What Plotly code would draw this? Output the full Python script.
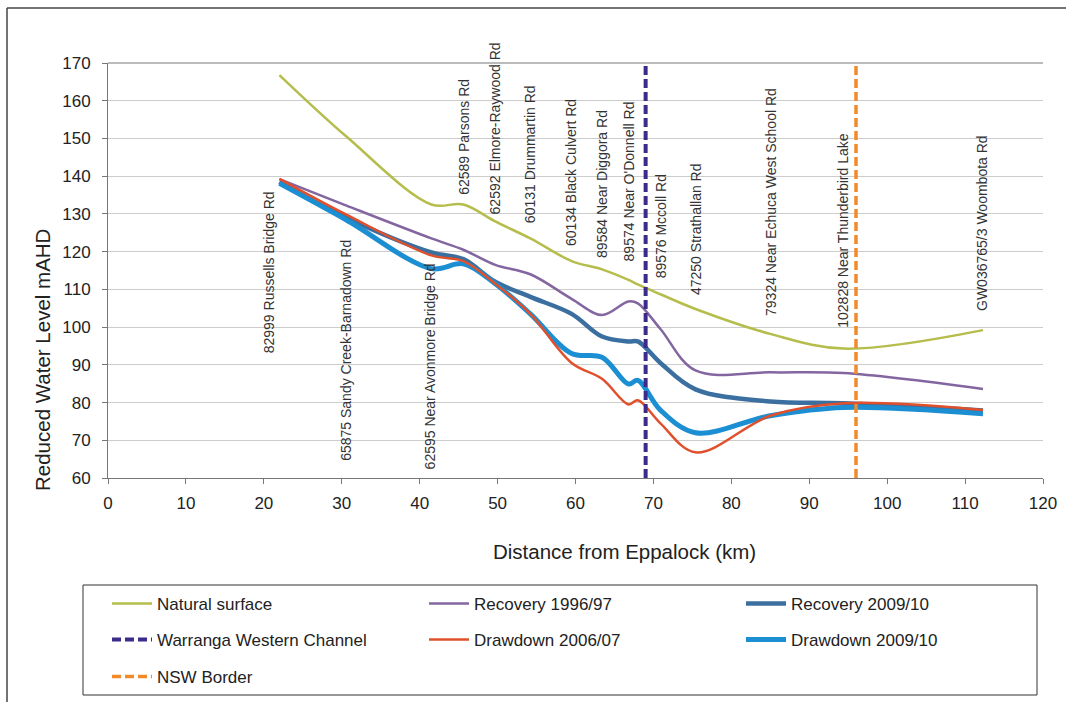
import plotly.graph_objects as go

# Bore locations along the transect (km from Eppalock) and water levels (mAHD)
distance_km = [22.0, 30.6, 41.5, 45.6, 49.7, 54.2, 59.5, 63.4, 66.8, 68.0, 70.9, 75.4, 85.0, 94.4, 112.3]
natural_surface = [166.8, 150.5, 132.5, 132.5, 128.0, 123.5, 117.5, 115.3, 112.5, 111.3, 108.7, 104.8, 98.2, 94.3, 99.2]
recovery_1996_97 = [139.2, 132.2, 123.5, 120.5, 116.5, 114.0, 107.5, 103.2, 106.8, 106.3, 99.5, 88.5, 88.0, 87.8, 83.6]
recovery_2009_10 = [138.5, 129.0, 119.8, 118.0, 112.0, 108.0, 103.5, 97.5, 96.2, 96.2, 90.5, 83.5, 80.3, 79.8, 77.9]
drawdown_2006_07 = [139.3, 129.8, 119.0, 117.5, 111.5, 103.5, 90.5, 86.3, 79.5, 80.6, 74.5, 66.8, 76.5, 79.8, 78.0]
drawdown_2009_10 = [138.1, 128.4, 115.5, 116.8, 111.5, 103.5, 93.0, 92.0, 84.9, 85.9, 78.0, 72.0, 76.5, 78.7, 77.0]

# Reference features crossing the transect
warranga_channel_km = 69.0
nsw_border_km = 96.0

# Bore names, with where each name is written (km, level at the start of the text)
bore_names = [
    "82999 Russells Bridge Rd", "65875 Sandy Creek-Barnadown Rd", "62595 Near Avonmore Bridge Rd",
    "62589 Parsons Rd", "62592 Elmore-Raywood Rd", "60131 Drummartin Rd", "60134 Black Culvert Rd",
    "89584 Near Diggora Rd", "89574 Near O'Donnell Rd", "89576 Mccoll Rd", "47250 Strathallan Rd",
    "79324 Near Echuca West School Rd", "102828 Near Thunderbird Lake", "GW036765/3 Woombota Rd",
]
bore_name_km = [20.6, 30.6, 41.3, 45.6, 49.7, 54.2, 59.5, 63.4, 66.8, 70.9, 75.4, 85.0, 94.4, 112.2]
bore_name_level = [92.4, 64.0, 61.7, 134.6, 129.4, 127.1, 121.0, 117.8, 117.0, 112.5, 108.1, 102.5, 99.3, 103.8]

y_range = [60, 170]
x_range = [0, 120]

FONT = "Liberation Sans, Arial, sans-serif"

fig = go.Figure()

def curve(name, values, color, width, legend, rank):
    fig.add_trace(go.Scatter(
        x=distance_km, y=values, name=name, mode="lines",
        line=dict(color=color, width=width, shape="spline", smoothing=1.0),
        legend=legend, legendrank=rank, hoverinfo="x+y+name",
    ))

curve("Natural surface", natural_surface, "#b5bd4c", 2.5, "legend", 1)
curve("Recovery 1996/97", recovery_1996_97, "#8366a0", 2.5, "legend", 2)
curve("Recovery 2009/10", recovery_2009_10, "#3b6fa0", 4.5, "legend", 3)
curve("Drawdown 2009/10", drawdown_2009_10, "#1b8fd2", 5, "legend2", 6)
curve("Drawdown 2006/07", drawdown_2006_07, "#e0502d", 2.5, "legend2", 5)

fig.add_trace(go.Scatter(
    x=[warranga_channel_km, warranga_channel_km], y=y_range, name="Warranga Western Channel",
    mode="lines", line=dict(color="#3d2b8c", width=4, dash="9px,4px"), legend="legend2", legendrank=4,
))
fig.add_trace(go.Scatter(
    x=[nsw_border_km, nsw_border_km], y=y_range, name="NSW Border",
    mode="lines", line=dict(color="#f28a2a", width=3.5, dash="9px,4px"), legend="legend3", legendrank=7,
))

for name, xk, yl in zip(bore_names, bore_name_km, bore_name_level):
    fig.add_annotation(
        x=xk, y=yl, xref="x", yref="y", text=name, textangle=-90,
        showarrow=False, xanchor="center", yanchor="bottom",
        font=dict(family=FONT, size=14, color="#333333"),
    )

# Plot area in pixels: left 108, right 1043, top 63, bottom 478
L, R, T, B = 108, 1043, 63, 478
W, H = R - L, B - T

def px_x(px):
    return (px - L) / W

def px_y(py):
    return (B - py) / H

legend_common = dict(
    orientation="h", xref="paper", yref="paper", xanchor="left", yanchor="middle",
    bgcolor="rgba(0,0,0,0)", borderwidth=0, itemwidth=40, entrywidth=262,
    font=dict(family=FONT, size=17, color="#222222"), traceorder="normal",
)

# Axis titles
fig.add_annotation(
    x=px_x(624), y=px_y(551), xref="paper", yref="paper", text="Distance from Eppalock (km)",
    showarrow=False, xanchor="center", yanchor="middle",
    font=dict(family=FONT, size=20.5, color="#222222"),
)
fig.add_annotation(
    x=px_x(42), y=px_y(360), xref="paper", yref="paper", text="Reduced Water Level mAHD",
    textangle=-90, showarrow=False, xanchor="center", yanchor="middle",
    font=dict(family=FONT, size=20.5, color="#222222"),
)

fig.update_layout(
    width=1070, height=702, autosize=False,
    margin=dict(l=L, r=1070 - R, t=T, b=702 - B, autoexpand=False),
    paper_bgcolor="white", plot_bgcolor="white",
    font=dict(family=FONT, size=17, color="#222222"),
    showlegend=True,
    legend=dict(x=px_x(107), y=px_y(604), **legend_common),
    legend2=dict(x=px_x(107), y=px_y(640), **legend_common),
    legend3=dict(x=px_x(107), y=px_y(677), **legend_common),
    xaxis=dict(
        range=x_range, dtick=10, tick0=0, showgrid=False, zeroline=False,
        showline=True, linecolor="#777777", linewidth=1,
        ticks="outside", ticklen=5, tickcolor="#777777", ticklabelstandoff=5,
        tickfont=dict(family=FONT, size=17, color="#222222"),
    ),
    yaxis=dict(
        range=y_range, dtick=10, tick0=60, showgrid=True, gridcolor="#cccccc", gridwidth=1,
        zeroline=False, showline=True, linecolor="#777777", linewidth=1,
        ticks="outside", ticklen=5, tickcolor="#777777", ticklabelstandoff=8,
        tickfont=dict(family=FONT, size=17, color="#222222"),
    ),
    shapes=[
        # top edge of the plot area
        dict(type="line", xref="paper", yref="paper", x0=0, x1=1, y0=1, y1=1,
             line=dict(color="#777777", width=1)),
        # legend frame
        dict(type="rect", xref="paper", yref="paper",
             x0=px_x(83), x1=px_x(1037), y0=px_y(695), y1=px_y(585),
             line=dict(color="#333333", width=1), fillcolor="rgba(0,0,0,0)", layer="below"),
        # outer chart frame (left and top)
        dict(type="line", xref="paper", yref="paper", x0=px_x(7), x1=px_x(7), y0=px_y(8), y1=px_y(702),
             line=dict(color="#444444", width=1.5)),
        dict(type="line", xref="paper", yref="paper", x0=px_x(7), x1=px_x(1066), y0=px_y(8), y1=px_y(8),
             line=dict(color="#444444", width=1.5)),
    ],
)

fig.write_html("out.html")
